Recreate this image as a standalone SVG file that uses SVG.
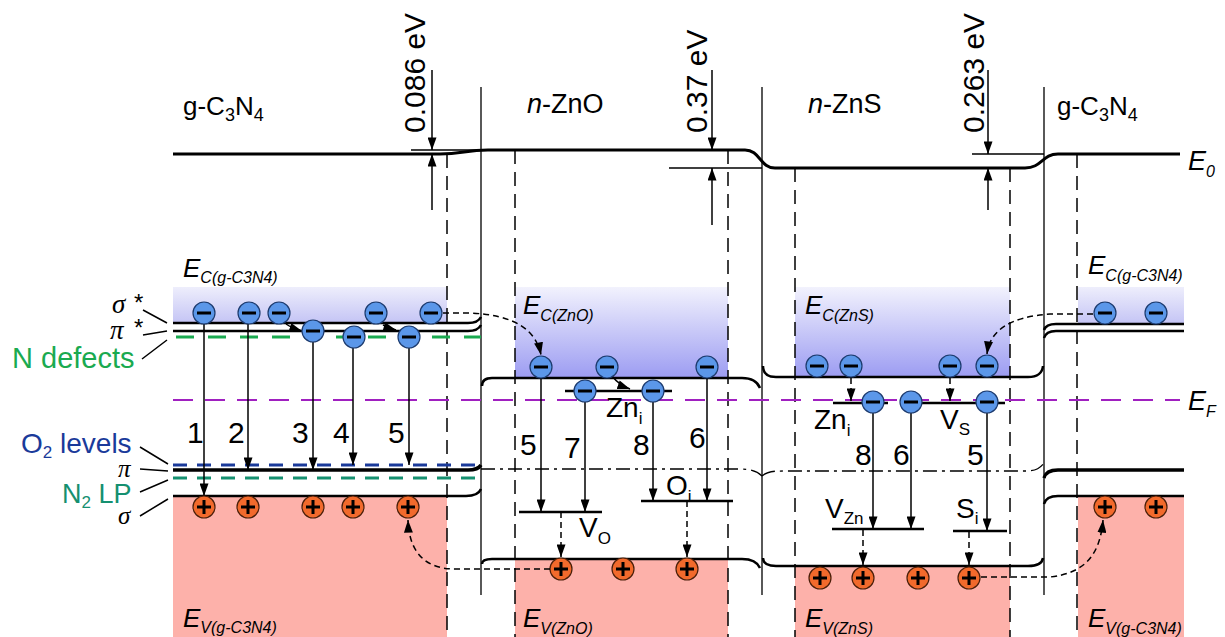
<svg xmlns="http://www.w3.org/2000/svg" width="1225" height="637" viewBox="0 0 1225 637">
<style>
text{font-family:"Liberation Sans",Arial,sans-serif;fill:#000}
.it{font-style:italic}
.gr{font-family:"Liberation Serif","Times New Roman",serif;font-style:italic}
.lv{fill:none;stroke:#000;stroke-width:2.5}
.thk{fill:none;stroke:#000;stroke-width:3.5}
.thin{fill:none;stroke:#000;stroke-width:1.3}
.vd{fill:none;stroke:#000;stroke-width:1.5;stroke-dasharray:14 8}
.ar{fill:none;stroke:#000;stroke-width:1.5;marker-end:url(#ah)}
.da{fill:none;stroke:#000;stroke-width:1.5;stroke-dasharray:6 4;marker-end:url(#ah)}
.dd{fill:none;stroke:#000;stroke-width:1.3;stroke-dasharray:14 5 3 5}
.ld{fill:none;stroke:#000;stroke-width:1.5}
</style>
<defs>
<marker id="ah" viewBox="0 0 14 10" refX="14" refY="5" markerWidth="13" markerHeight="9" orient="auto" markerUnits="userSpaceOnUse"><path d="M0,0L14,5L0,10z" fill="#000"/></marker>
<linearGradient id="gcb" x1="0" y1="0" x2="0" y2="1"><stop offset="0" stop-color="#f2f2fd"/><stop offset="1" stop-color="#9c9cf2"/></linearGradient>
<linearGradient id="gcg" x1="0" y1="0" x2="0" y2="1"><stop offset="0" stop-color="#eeeefc"/><stop offset="1" stop-color="#c4c4f5"/></linearGradient>
<g id="el"><circle r="11" fill="#5b97e9" stroke="#1d3b6e" stroke-width="1.2"/><path d="M-7,0H7" stroke="#000" stroke-width="3"/></g>
<g id="ho"><circle r="11" fill="#f26a2c" stroke="#4a1f0a" stroke-width="1.2"/><path d="M-7,0H7M0,-7V7" stroke="#000" stroke-width="3"/></g>
</defs>

<g id="fills">
<rect x="173" y="287" width="274" height="36" fill="url(#gcg)"/>
<rect x="1078" y="287" width="106" height="37" fill="url(#gcg)"/>
<rect x="515" y="287" width="213" height="91" fill="url(#gcb)"/>
<rect x="795" y="287" width="215" height="90" fill="url(#gcb)"/>
<rect x="173" y="496" width="274" height="141" fill="#fdb1aa"/>
<rect x="515" y="559" width="213" height="78" fill="#fdb1aa"/>
<rect x="795" y="566" width="215" height="71" fill="#fdb1aa"/>
<rect x="1078" y="496" width="106" height="141" fill="#fdb1aa"/>
</g>

<g id="frame">
<path class="thin" d="M481,87V595M762,87V595M1044,87V595"/>
<path class="vd" d="M447,154V637M515,150V637M728,150V637M795,168V637M1010,168V637M1077,154V637"/>
<path d="M173,154L440,154C462,154 466,150 488,150L745,150C760,150 760,168 775,168L1025,168C1042,168 1042,154 1058,154L1180,154" fill="none" stroke="#000" stroke-width="3"/>
<path class="thin" d="M411,150H481M669,168H762M972,154H1044"/>
<path class="ar" d="M432,70V150"/><path class="ar" d="M432,210V154"/>
<path class="ar" d="M712,70V150"/><path class="ar" d="M712,225V168"/>
<path class="ar" d="M988,70V154"/><path class="ar" d="M988,210V168"/>
<text transform="translate(425,133) rotate(-90)" font-size="30">0.086 eV</text>
<text transform="translate(707,133) rotate(-90)" font-size="30">0.37 eV</text>
<text transform="translate(984,133) rotate(-90)" font-size="30">0.263 eV</text>
<text x="183" y="115" font-size="26">g-C<tspan font-size="18" dy="6">3</tspan><tspan dy="-6">N</tspan><tspan font-size="18" dy="6">4</tspan></text>
<text x="527" y="113" font-size="27"><tspan class="it">n</tspan>-ZnO</text>
<text x="808" y="113" font-size="27"><tspan class="it">n</tspan>-ZnS</text>
<text x="1057" y="115" font-size="26">g-C<tspan font-size="18" dy="6">3</tspan><tspan dy="-6">N</tspan><tspan font-size="18" dy="6">4</tspan></text>
<text x="1188" y="170" font-size="27" class="it">E<tspan font-size="16" dy="7">0</tspan></text>
<text x="1188" y="410" font-size="27" class="it">E<tspan font-size="16" dy="7">F</tspan></text>
</g>

<g id="fermi"><path d="M173,400H1180" fill="none" stroke="#a020c0" stroke-width="2" stroke-dasharray="20 12"/></g>

<g id="gcn-left">
<path class="lv" d="M173,323H468Q478,323 481,317"/>
<path class="lv" d="M173,331H468Q478,331 481,325"/>
<path d="M176,337H481" fill="none" stroke="#1aaa50" stroke-width="3" stroke-dasharray="18 14"/>
<path d="M173,465H481" fill="none" stroke="#1a3a9a" stroke-width="3" stroke-dasharray="14 10"/>
<path class="thk" d="M173,470H468Q478,470 481,465"/>
<path d="M173,478H481" fill="none" stroke="#159070" stroke-width="3" stroke-dasharray="14 10"/>
<path class="lv" d="M173,496H466Q478,496 481,489"/>
<text x="183" y="277" font-size="26" class="it">E<tspan font-size="16" dy="6">C(g-C3N4)</tspan></text>
<text x="183" y="627" font-size="26" class="it">E<tspan font-size="16" dy="6">V(g-C3N4)</tspan></text>
<text x="112" y="313" font-size="27" class="gr">σ</text><text x="134" y="311" font-size="24">*</text>
<text x="110" y="339" font-size="27" class="gr">π</text><text x="134" y="336" font-size="24">*</text>
<text x="12" y="368" font-size="29" style="fill:#1aaa50">N defects</text>
<text x="21" y="453" font-size="28" style="fill:#1a3a9a">O<tspan font-size="17" dy="5">2</tspan><tspan dy="-5"> levels</tspan></text>
<text x="118" y="477" font-size="25" class="gr">π</text>
<text x="62" y="503" font-size="27" style="fill:#159070">N<tspan font-size="17" dy="5">2</tspan><tspan dy="-5"> LP</tspan></text>
<text x="118" y="524" font-size="25" class="gr">σ</text>
<path class="ld" d="M143,310L167,323M143,335L167,331M142,359L167,340M140,447L168,464M140,469L168,471M140,492L168,480M140,516L168,499"/>
<path class="ar" d="M204,324V496"/>
<path class="ar" d="M248,324V470"/>
<path class="ar" d="M313,342V470"/>
<path class="ar" d="M353,348V465"/>
<path class="ar" d="M409,348V465"/>
<path class="ar" d="M286,324Q292,328 302,331" stroke-width="1.2"/>
<path class="ar" d="M383,325Q389,328 396,330" stroke-width="1.2"/>
<text x="187" y="443" font-size="30">1</text>
<text x="228" y="443" font-size="30">2</text>
<text x="292" y="443" font-size="30">3</text>
<text x="333" y="443" font-size="30">4</text>
<text x="388" y="443" font-size="30">5</text>
<use href="#el" x="204" y="313"/><use href="#el" x="249" y="313"/><use href="#el" x="279" y="313"/>
<use href="#el" x="376" y="313"/><use href="#el" x="431" y="313"/>
<use href="#el" x="313" y="331"/><use href="#el" x="354" y="337"/><use href="#el" x="409" y="337"/>
<use href="#ho" x="204" y="507"/><use href="#ho" x="248" y="507"/><use href="#ho" x="313" y="507"/><use href="#ho" x="353" y="507"/><use href="#ho" x="408" y="507"/>
</g>

<g id="zno">
<path class="lv" d="M482,386Q482,378 492,378H742Q756,378 760,388"/>
<path class="lv" d="M482,564Q482,559 492,559H742Q756,559 760,568"/>
<path class="dd" d="M481,469H740C752,469 758,472 762,476"/>
<path class="lv" d="M565,391H672"/>
<path class="lv" d="M519,512H602"/>
<path class="lv" d="M641,501H733"/>
<text x="523" y="314" font-size="26" class="it">E<tspan font-size="16" dy="7">C(ZnO)</tspan></text>
<text x="523" y="627" font-size="26" class="it">E<tspan font-size="16" dy="7">V(ZnO)</tspan></text>
<path class="ar" d="M541,378V512"/>
<path class="ar" d="M585,402V512"/>
<path class="ar" d="M653,402V501"/>
<path class="ar" d="M707,378V501"/>
<path class="ar" d="M612,376Q619,385 630,389" stroke-width="1.2"/>
<path class="da" d="M561,512V557"/>
<path class="da" d="M687,501V557"/>
<text x="520" y="455" font-size="30">5</text>
<text x="564" y="458" font-size="30">7</text>
<text x="633" y="455" font-size="30">8</text>
<text x="689" y="448" font-size="30">6</text>
<text x="606" y="417" font-size="28">Zn<tspan font-size="17" dy="7">i</tspan></text>
<text x="579" y="537" font-size="28">V<tspan font-size="17" dy="7">O</tspan></text>
<text x="666" y="495" font-size="28">O<tspan font-size="17" dy="7">i</tspan></text>
<use href="#el" x="541" y="367"/><use href="#el" x="607" y="367"/><use href="#el" x="707" y="367"/>
<use href="#el" x="585" y="391"/><use href="#el" x="653" y="391"/>
<use href="#ho" x="561" y="569"/><use href="#ho" x="623" y="569"/><use href="#ho" x="687" y="569"/>
</g>

<g id="zns">
<path class="lv" d="M763,366Q763,377 776,377H1028Q1042,377 1043,366"/>
<path class="lv" d="M763,558Q763,566 776,566H1028Q1042,566 1043,558"/>
<path class="dd" d="M762,476C768,471 775,471 785,471H1025C1037,471 1040,468 1044,463"/>
<path class="lv" d="M833,403H888"/>
<path class="lv" d="M905,403H1005"/>
<path class="lv" d="M832,529H924"/>
<path class="lv" d="M953,531H1007"/>
<text x="805" y="314" font-size="26" class="it">E<tspan font-size="16" dy="7">C(ZnS)</tspan></text>
<text x="805" y="627" font-size="26" class="it">E<tspan font-size="16" dy="7">V(ZnS)</tspan></text>
<path class="da" d="M851,378V401"/>
<path class="da" d="M950,378V401"/>
<path class="ar" d="M873,413V529"/>
<path class="ar" d="M911,413V529"/>
<path class="ar" d="M987,413V531"/>
<path class="da" d="M863,530V565"/>
<path class="da" d="M969,532V565"/>
<text x="855" y="465" font-size="30">8</text>
<text x="893" y="465" font-size="30">6</text>
<text x="967" y="465" font-size="30">5</text>
<text x="814" y="429" font-size="28">Zn<tspan font-size="17" dy="7">i</tspan></text>
<text x="940" y="429" font-size="28">V<tspan font-size="17" dy="6">S</tspan></text>
<text x="825" y="518" font-size="28">V<tspan font-size="17" dy="6">Zn</tspan></text>
<text x="956" y="518" font-size="28">S<tspan font-size="17" dy="6">i</tspan></text>
<use href="#el" x="817" y="366"/><use href="#el" x="851" y="366"/><use href="#el" x="950" y="366"/><use href="#el" x="987" y="366"/>
<use href="#el" x="873" y="402"/><use href="#el" x="911" y="402"/><use href="#el" x="987" y="402"/>
<use href="#ho" x="820" y="578"/><use href="#ho" x="863" y="578"/><use href="#ho" x="918" y="578"/><use href="#ho" x="969" y="578"/>
</g>

<g id="gcn-right">
<path class="lv" d="M1044,330Q1046,324 1056,324H1184"/>
<path class="lv" d="M1044,338Q1046,331 1056,331H1184"/>
<path class="thk" d="M1044,478Q1046,470 1058,470H1184"/>
<path class="lv" d="M1044,504Q1046,496 1058,496H1184"/>
<text x="1088" y="274" font-size="26" class="it">E<tspan font-size="16" dy="7">C(g-C3N4)</tspan></text>
<text x="1088" y="627" font-size="26" class="it">E<tspan font-size="16" dy="7">V(g-C3N4)</tspan></text>
<use href="#el" x="1105" y="313"/><use href="#el" x="1156" y="313"/>
<use href="#ho" x="1105" y="507"/><use href="#ho" x="1156" y="507"/>
</g>

<g id="connectors">
<path class="da" d="M443,313H470C515,315 536,330 541,355"/>
<path class="da" d="M550,569H455C425,569 409,552 408,520"/>
<path class="da" d="M1093,314H1050C1010,317 990,330 987,354"/>
<path class="da" d="M981,577H1050C1085,573 1100,555 1103,520"/>
</g>
</svg>
